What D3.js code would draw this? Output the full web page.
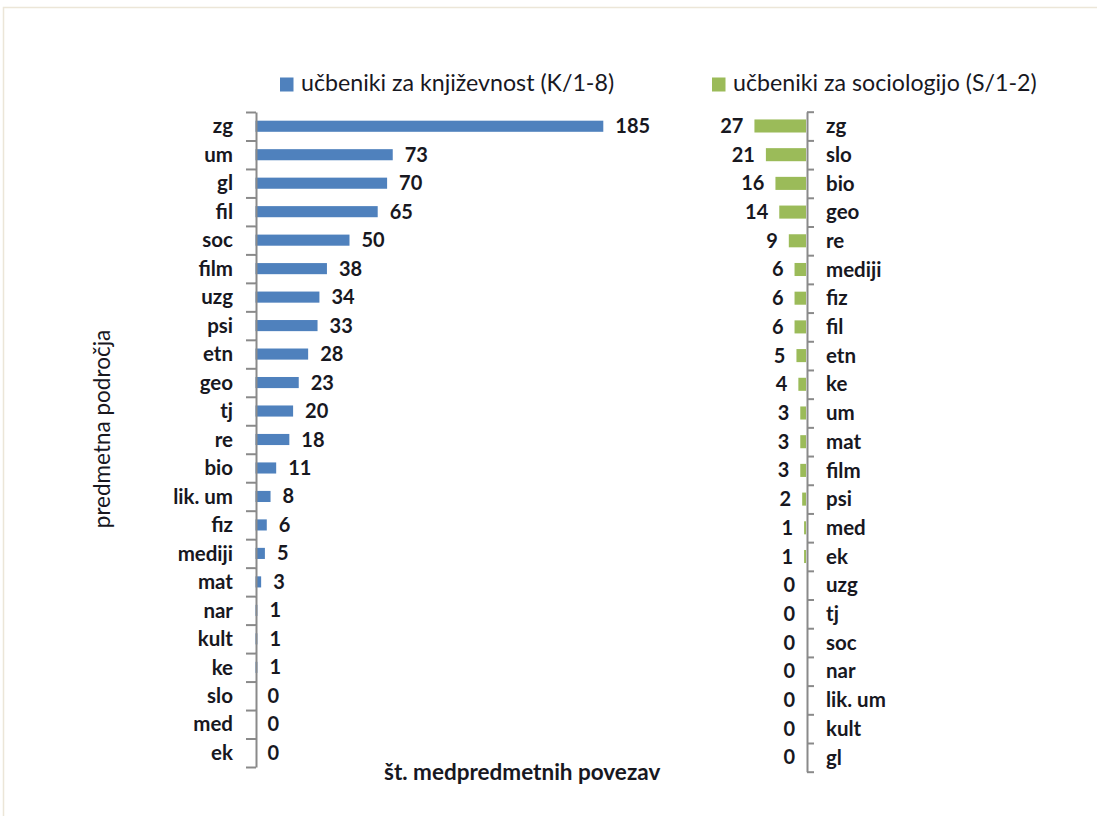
<!DOCTYPE html>
<html>
<head>
<meta charset="utf-8">
<script src="https://cdn.jsdelivr.net/npm/d3@7"></script>
<style>
  html, body { margin: 0; padding: 0; background: #fff; }
  svg { display: block; font-family: Lato, "Open Sans", sans-serif; }
</style>
</head>
<body>
<svg id="chart" width="1097" height="816"></svg>
<script>
// Literature textbooks (K/1-8): cross-curricular links per subject area
const catsK = ["zg","um","gl","fil","soc","film","uzg","psi","etn","geo","tj","re","bio","lik. um","fiz","mediji","mat","nar","kult","ke","slo","med","ek"];
const valsK = [185,73,70,65,50,38,34,33,28,23,20,18,11,8,6,5,3,1,1,1,0,0,0];

// Sociology textbooks (S/1-2)
const catsS = ["zg","slo","bio","geo","re","mediji","fiz","fil","etn","ke","um","mat","film","psi","med","ek","uzg","tj","soc","nar","lik. um","kult","gl"];
const valsS = [27,21,16,14,9,6,6,6,5,4,3,3,3,2,1,1,0,0,0,0,0,0,0];

const legendK = "učbeniki za književnost (K/1-8)";
const legendS = "učbeniki za sociologijo (S/1-2)";
const yTitle = "predmetna področja";
const xTitle = "št. medpredmetnih povezav";

const BLUE = "#4f81bd", GREEN = "#9bbb59", AXIS = "#8a8a8a", TXT = "#18181f";

const svg = d3.select("#chart");

// outer frame of the chart area
svg.append("path")
  .attr("d", "M3.5,816 V7.5 H1097")
  .attr("fill", "none").attr("stroke", "#ece6d8").attr("stroke-width", 1.5);

// ---------- left panel ----------
const yK = d3.scaleBand().domain(d3.range(catsK.length)).range([112, 767]).paddingInner(0.61).paddingOuter(0.305);
const xK = d3.scaleLinear().domain([0, 200]).range([255.5, 631.5]);
const idxK = d3.scaleLinear().domain([0, catsK.length]).range([112, 767]);

const gK = svg.append("g");
gK.selectAll("rect").data(valsK).join("rect")
  .attr("x", xK(0)).attr("y", (d, i) => yK(i))
  .attr("width", d => xK(d) - xK(0)).attr("height", yK.bandwidth())
  .attr("fill", BLUE);

const axK = svg.append("g").attr("transform", `translate(${xK(0) + 0.5},0)`)
  .call(d3.axisLeft(idxK).tickValues(d3.range(catsK.length + 1)).tickSize(10).tickSizeOuter(0).tickFormat(""));
axK.selectAll("path, line").attr("stroke", AXIS).attr("stroke-width", 2);

gK.selectAll("text.cat").data(catsK).join("text").attr("class", "cat")
  .attr("x", 233).attr("y", (d, i) => yK(i) + yK.bandwidth() / 2)
  .attr("dy", "0.35em").attr("text-anchor", "end")
  .attr("font-size", 20.5).attr("font-weight", "bold").attr("fill", TXT).text(d => d);

gK.selectAll("text.val").data(valsK).join("text").attr("class", "val")
  .attr("x", d => xK(d) + 12).attr("y", (d, i) => yK(i) + yK.bandwidth() / 2)
  .attr("dy", "0.35em").attr("text-anchor", "start")
  .attr("font-size", 20).attr("font-weight", "bold").attr("fill", TXT).text(d => d);

// ---------- right panel ----------
const yS = d3.scaleBand().domain(d3.range(catsS.length)).range([111.7, 771.7]).paddingInner(0.545).paddingOuter(0.27);
const xS = d3.scaleLinear().domain([0, 30]).range([806, 748.7]);
const idxS = d3.scaleLinear().domain([0, catsS.length]).range([111.7, 771.7]);

const gS = svg.append("g");
gS.selectAll("rect").data(valsS).join("rect")
  .attr("x", d => xS(d)).attr("y", (d, i) => yS(i))
  .attr("width", d => xS(0) - xS(d)).attr("height", yS.bandwidth())
  .attr("fill", GREEN);

const axS = svg.append("g").attr("transform", `translate(${xS(0) + 1},0)`)
  .call(d3.axisRight(idxS).tickValues(d3.range(catsS.length + 1)).tickSize(7).tickSizeOuter(0).tickFormat(""));
axS.selectAll("path, line").attr("stroke", AXIS).attr("stroke-width", 2);

gS.selectAll("text.cat").data(catsS).join("text").attr("class", "cat")
  .attr("x", 826).attr("y", (d, i) => yS(i) + yS.bandwidth() / 2)
  .attr("dy", "0.35em").attr("text-anchor", "start")
  .attr("font-size", 20.5).attr("font-weight", "bold").attr("fill", TXT).text(d => d);

gS.selectAll("text.val").data(valsS).join("text").attr("class", "val")
  .attr("x", d => xS(d) - 11).attr("y", (d, i) => yS(i) + yS.bandwidth() / 2)
  .attr("dy", "0.35em").attr("text-anchor", "end")
  .attr("font-size", 20).attr("font-weight", "bold").attr("fill", TXT).text(d => d);

// ---------- legends ----------
const legend = [
  { label: legendK, color: BLUE, x: 280 },
  { label: legendS, color: GREEN, x: 712 }
];
const lg = svg.selectAll("g.legend").data(legend).join("g").attr("class", "legend")
  .attr("transform", d => `translate(${d.x},0)`);
lg.append("rect").attr("x", 0).attr("y", 77.5).attr("width", 13.5).attr("height", 14).attr("fill", d => d.color);
lg.append("text").attr("x", 21).attr("y", 91).attr("font-size", 23.2).attr("fill", TXT).text(d => d.label);

// ---------- axis titles ----------
svg.append("text")
  .attr("transform", "translate(110,429) rotate(-90)")
  .attr("text-anchor", "middle").attr("font-size", 22.5).attr("fill", TXT).text(yTitle);

svg.append("text")
  .attr("x", 384).attr("y", 780)
  .attr("font-size", 22.5).attr("font-weight", "bold").attr("fill", TXT).text(xTitle);
</script>
</body>
</html>
